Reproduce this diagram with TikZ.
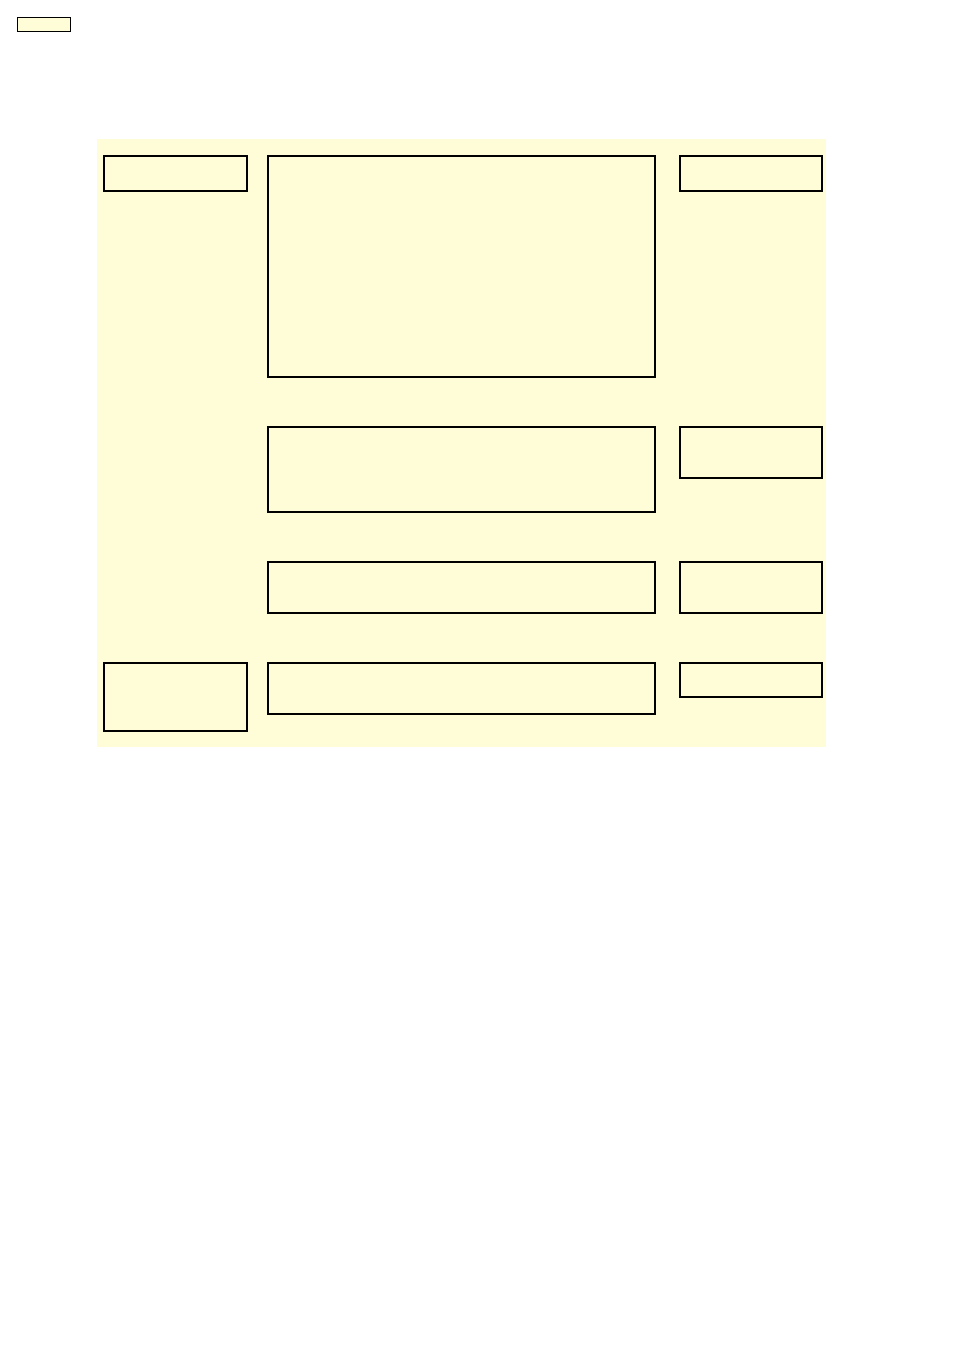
\documentclass[tikz,border=0pt]{standalone}
\usepackage{color}
\usepackage{tikz}
\definecolor{cream}{HTML}{FFFCD8}
\tikzstyle{cellbox}=[rectangle, draw=black, fill=cream, inner sep=0pt, line width=2pt, anchor=north west]

\begin{document}
\begin{tikzpicture}[x=1pt, y=-1pt]
			\useasboundingbox[fill=white] (0,0) rectangle (954,1350);
			\fill[cream] (97,139) rectangle (826,747);
			\node[cellbox, line width=1.3pt, minimum width=53pt, minimum height=14pt] (tag) at (17,17) {};
			\node[cellbox, minimum width=143pt, minimum height=35pt] (l1) at (103,155) {};
			\node[cellbox, minimum width=143pt, minimum height=68pt] (l2) at (103,662) {};
			\node[cellbox, minimum width=387pt, minimum height=221pt] (m1) at (267,155) {};
			\node[cellbox, minimum width=387pt, minimum height=85pt] (m2) at (267,426) {};
			\node[cellbox, minimum width=387pt, minimum height=51pt] (m3) at (267,561) {};
			\node[cellbox, minimum width=387pt, minimum height=51pt] (m4) at (267,662) {};
			\node[cellbox, minimum width=142pt, minimum height=35pt] (r1) at (679,155) {};
			\node[cellbox, minimum width=142pt, minimum height=51pt] (r2) at (679,426) {};
			\node[cellbox, minimum width=142pt, minimum height=51pt] (r3) at (679,561) {};
			\node[cellbox, minimum width=142pt, minimum height=34pt] (r4) at (679,662) {};
		\end{tikzpicture}
\end{document}
